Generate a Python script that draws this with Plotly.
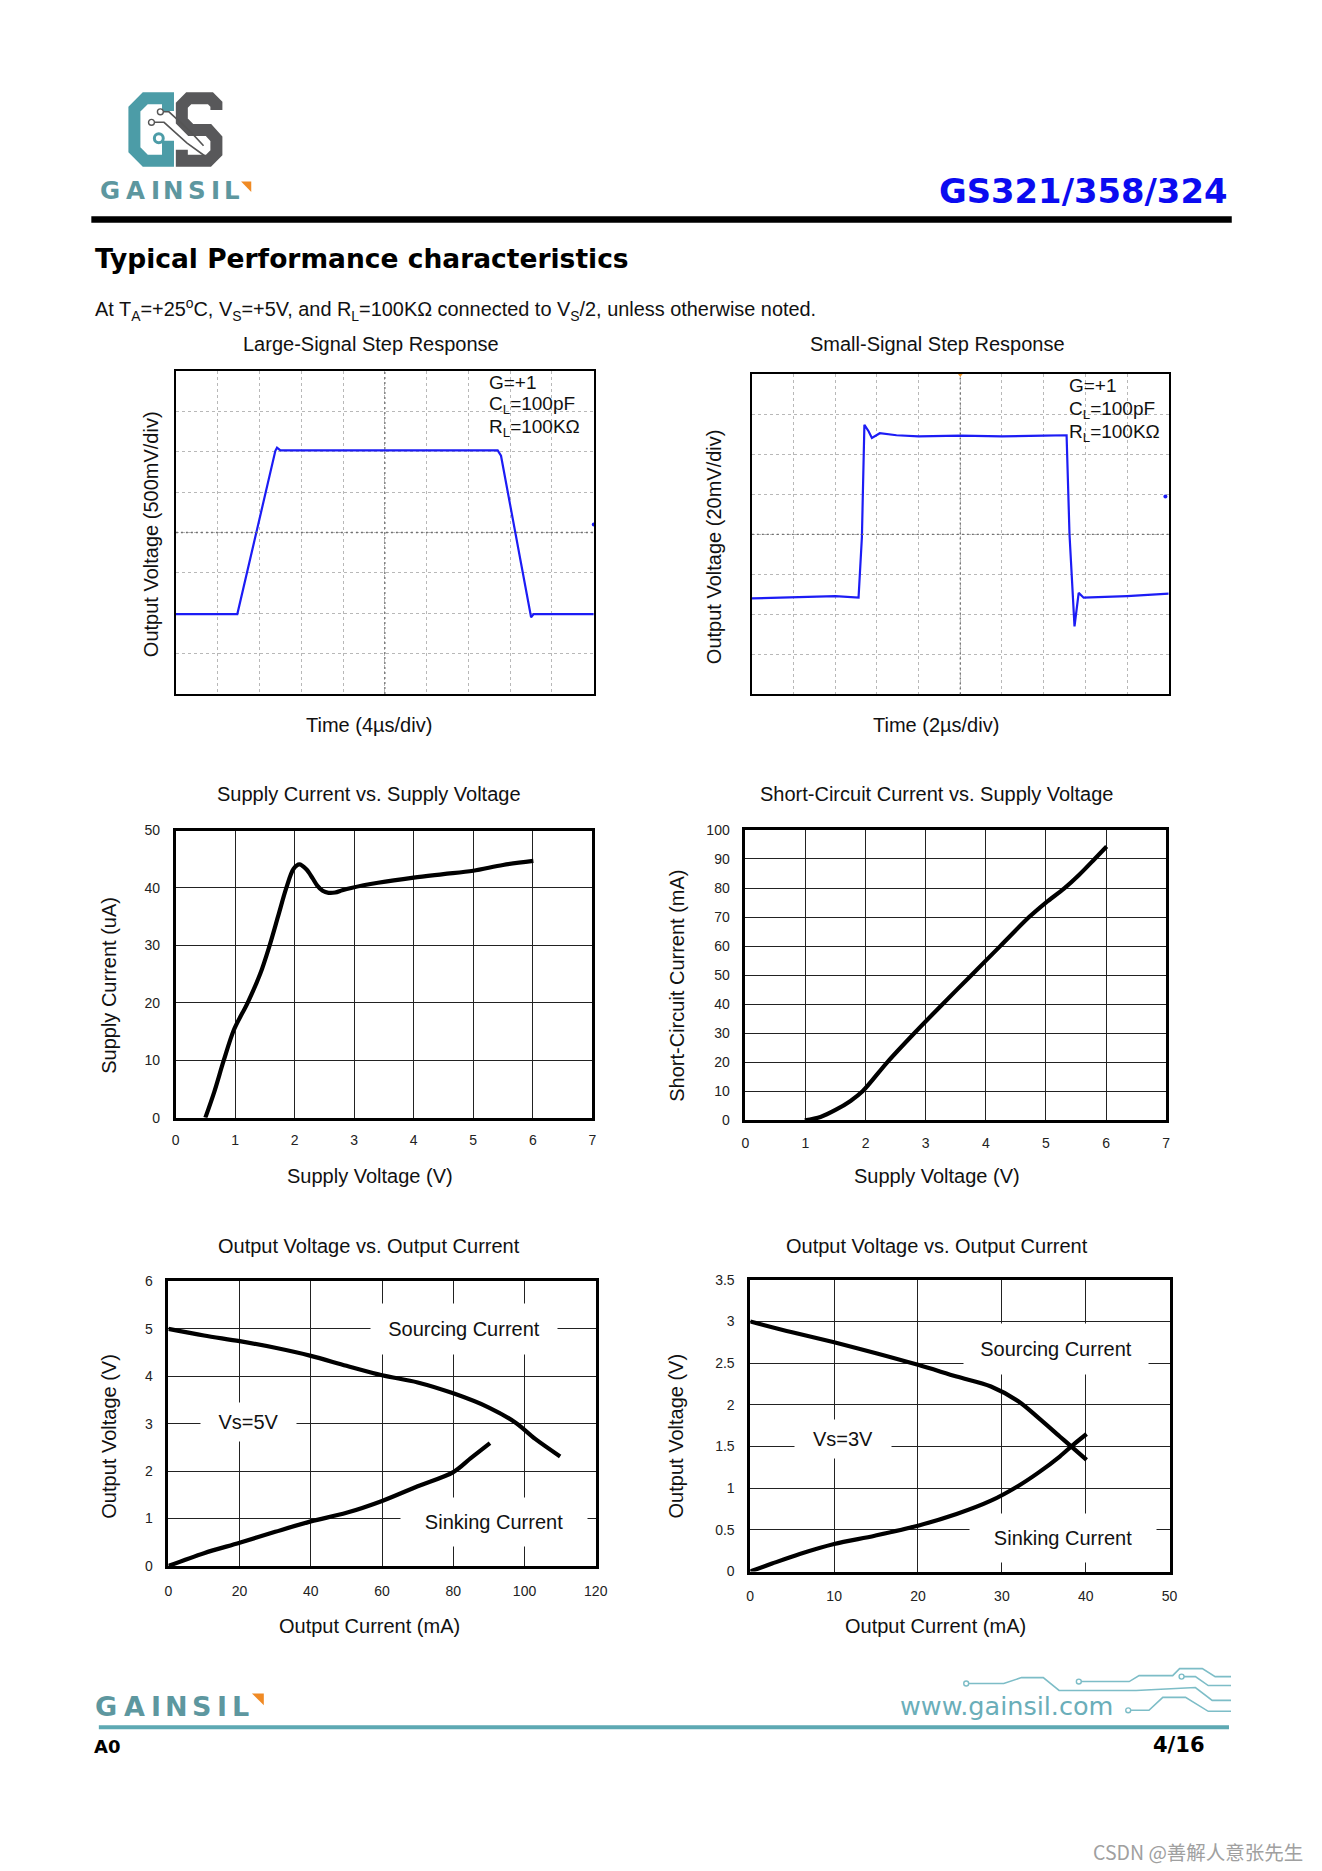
import plotly.graph_objects as go

W, H = 1322, 1871

# ---- values ----
# scope traces, in screen divisions (10 x 8)
ls_t = [0.0, 1.47, 2.38, 2.42, 2.50, 7.70, 7.78, 8.50, 8.56, 10.0]
ls_v = [1.98, 1.98, 6.02, 6.10, 6.03, 6.03, 5.90, 1.90, 1.98, 1.98]
ls_mark_t = [10.0]
ls_mark_v = [4.2]

ss_t = [0.0, 1.0, 2.0, 2.56, 2.64, 2.70, 2.80, 2.88, 3.07, 3.47, 4.0, 5.0, 6.0, 7.0,
        7.55, 7.62, 7.74, 7.84, 7.96, 9.0, 10.0]
ss_v = [2.40, 2.43, 2.46, 2.42, 3.93, 6.74, 6.58, 6.41, 6.53, 6.48, 6.45, 6.47, 6.45, 6.47,
        6.48, 4.00, 1.70, 2.54, 2.42, 2.46, 2.52]
ss_mark_t = [9.92]
ss_mark_v = [4.95]
ss_trig_t = [5.0]
ss_trig_v = [8.0]

# supply current vs supply voltage
iq_vs = [0.50, 0.65, 0.81, 0.98, 1.21, 1.42, 1.58, 1.72, 1.86, 1.98, 2.08, 2.20, 2.30,
         2.38, 2.47, 2.57, 2.68, 2.80, 2.95, 3.40, 4.00, 4.50, 5.00, 5.50, 6.01]
iq_ua = [0.0, 4.5, 10.0, 15.3, 20.0, 25.0, 30.0, 35.0, 40.0, 43.3, 44.1, 43.2, 41.7,
         40.4, 39.5, 39.15, 39.2, 39.6, 40.0, 40.9, 41.8, 42.4, 43.0, 44.0, 44.7]

# short-circuit current vs supply voltage
isc_vs = [0.99, 1.25, 1.50, 1.75, 1.95, 2.36, 2.81, 3.28, 3.76, 4.24, 4.72, 5.00, 5.30,
          5.55, 5.81, 6.01]
isc_ma = [0.0, 1.2, 3.6, 6.7, 10.0, 20.0, 30.0, 40.0, 50.0, 60.0, 70.0, 75.0, 79.8,
          84.5, 90.0, 94.3]

# output voltage vs output current, Vs=5V
src5_ma = [0, 10, 20, 30, 40, 50, 60, 70, 80, 90, 97.5, 103, 110]
src5_v = [5.0, 4.86, 4.74, 4.60, 4.43, 4.22, 4.02, 3.87, 3.64, 3.34, 3.02, 2.68, 2.31]
snk5_ma = [0, 10, 20, 30, 40, 50, 60, 70, 80, 85, 90.3]
snk5_v = [0.0, 0.27, 0.49, 0.72, 0.94, 1.12, 1.37, 1.68, 1.98, 2.28, 2.59]

# output voltage vs output current, Vs=3V
src3_ma = [0, 5, 10, 15, 20, 24.6, 28.7, 32, 34.4, 36.9, 38.5, 40.1]
src3_v = [3.0, 2.87, 2.75, 2.62, 2.48, 2.34, 2.22, 2.04, 1.84, 1.62, 1.48, 1.34]
snk3_ma = [0, 2.6, 5.9, 10, 14.85, 20, 24.6, 28.7, 32, 34.4, 36.9, 38.5, 40.1]
snk3_v = [0.0, 0.095, 0.21, 0.33, 0.43, 0.55, 0.69, 0.85, 1.03, 1.19, 1.38, 1.52, 1.65]

# ---- page layout (pixels) ----
FONT = "Liberation Sans, Arial, sans-serif"
HEAVY = "DejaVu Sans, Liberation Sans, sans-serif"

# plot boxes: x0, y0, x1, y1
boxes = [
    (174, 366, 597, 692),
    (757, 369.6, 1179, 692.4),
    (173.7, 829.6, 595.5, 1119.2),
    (750.4, 829, 1176.4, 1122),
    (166.4, 1284.4, 599, 1571.4),
    (755.4, 1282.8, 1179.9, 1577),
]


def px(x):
    return x / W


def py(y):
    return 1 - y / H


def path(points, close=False):
    s = "M " + " L ".join(f"{px(x):.5f},{py(y):.5f}" for x, y in points)
    return s + (" Z" if close else "")


fig = go.Figure()
annotations = []
shapes = []


def text(t, x, y, size=20, color="#111", family=FONT, xanchor="center", angle=0, **kw):
    annotations.append(dict(text=t, x=px(x), y=py(y), xref="paper", yref="paper",
                            xanchor=xanchor, yanchor="middle", showarrow=False,
                            textangle=angle, font=dict(size=size, color=color, family=family), **kw))


# axes
for i, b in enumerate(boxes, start=1):
    n = "" if i == 1 else str(i)
    xa = dict(domain=[px(b[0]), px(b[2])], anchor="y" + n, zeroline=False, fixedrange=True,
              showline=True, mirror=True, linecolor="black", ticks="")
    ya = dict(domain=[py(b[3]), py(b[1])], anchor="x" + n, zeroline=False, fixedrange=True,
              showline=True, mirror=True, linecolor="black", ticks="")
    if i <= 2:
        scope = dict(showgrid=True, gridcolor="#b8b8b8", griddash="dot", gridwidth=1,
                     dtick=1, showticklabels=False, linewidth=1.5)
        xa.update(scope, range=[0, 10])
        ya.update(scope, range=[0, 8])
    else:
        grid = dict(showgrid=True, gridcolor="#222", gridwidth=1, linewidth=2.6,
                    tickfont=dict(size=14, color="#222", family=FONT))
        xa.update(grid, ticklabelstandoff=8 if i <= 4 else 10)
        ya.update(grid, ticklabelstandoff=10)
    fig.layout["xaxis" + n] = xa
    fig.layout["yaxis" + n] = ya

fig.layout.xaxis3.update(range=[0, 7], dtick=1)
fig.layout.yaxis3.update(range=[0, 50], dtick=10)
fig.layout.xaxis4.update(range=[0, 7], dtick=1)
fig.layout.yaxis4.update(range=[0, 100], dtick=10)
fig.layout.xaxis5.update(range=[0, 120], dtick=20)
fig.layout.yaxis5.update(range=[0, 6], dtick=1)
fig.layout.xaxis6.update(range=[0, 50], dtick=10)
fig.layout.yaxis6.update(range=[0, 3.5], dtick=0.5)

# scope centre lines
for n in ["", "2"]:
    shapes.append(dict(type="line", xref="x" + n, yref="y" + n, x0=5, x1=5, y0=0, y1=8,
                       line=dict(color="#707070", width=1.3, dash="2px,3px")))
    shapes.append(dict(type="line", xref="x" + n, yref="y" + n, x0=0, x1=10, y0=4, y1=4,
                       line=dict(color="#707070", width=1.3, dash="2px,3px")))

BLUE = "#1c1cf5"
fig.add_trace(go.Scatter(x=ls_t, y=ls_v, mode="lines", line=dict(color=BLUE, width=2.2),
                         xaxis="x", yaxis="y"))
fig.add_trace(go.Scatter(x=ls_mark_t, y=ls_mark_v, mode="markers", marker=dict(color=BLUE, size=4),
                         xaxis="x", yaxis="y", cliponaxis=False))
fig.add_trace(go.Scatter(x=ss_t, y=ss_v, mode="lines", line=dict(color=BLUE, width=2.2),
                         xaxis="x2", yaxis="y2"))
fig.add_trace(go.Scatter(x=ss_mark_t, y=ss_mark_v, mode="markers", marker=dict(color=BLUE, size=4),
                         xaxis="x2", yaxis="y2", cliponaxis=False))
fig.add_trace(go.Scatter(x=ss_trig_t, y=ss_trig_v, mode="markers",
                         marker=dict(color="#f29a2e", size=5, symbol="triangle-down"),
                         xaxis="x2", yaxis="y2", cliponaxis=False))

curve = dict(color="black", width=4.2, shape="spline", smoothing=0.9)
fig.add_trace(go.Scatter(x=iq_vs, y=iq_ua, mode="lines", line=curve, xaxis="x3", yaxis="y3"))
fig.add_trace(go.Scatter(x=isc_vs, y=isc_ma, mode="lines", line=curve, xaxis="x4", yaxis="y4"))
fig.add_trace(go.Scatter(x=src5_ma, y=src5_v, mode="lines", line=curve, xaxis="x5", yaxis="y5"))
fig.add_trace(go.Scatter(x=snk5_ma, y=snk5_v, mode="lines", line=curve, xaxis="x5", yaxis="y5"))
fig.add_trace(go.Scatter(x=src3_ma, y=src3_v, mode="lines", line=curve, xaxis="x6", yaxis="y6"))
fig.add_trace(go.Scatter(x=snk3_ma, y=snk3_v, mode="lines", line=curve, xaxis="x6", yaxis="y6"))
fig.update_traces(showlegend=False, hoverinfo="skip")


# labels on white boxes that break the grid
def boxed(t, n, x, y, w, h):
    annotations.append(dict(text=t, x=x, y=y, xref="x" + n, yref="y" + n, showarrow=False,
                            width=w, height=h, bgcolor="white", borderpad=0,
                            font=dict(size=20, color="#111", family=FONT)))


boxed("Sourcing Current", "5", 83.0, 4.99, 186, 50)
boxed("Vs=5V", "5", 22.5, 3.03, 95, 38)
boxed("Sinking Current", "5", 91.3, 0.92, 186, 48)
boxed("Sourcing Current", "6", 36.4, 2.67, 184, 50)
boxed("Vs=3V", "6", 11.1, 1.59, 96, 38)
boxed("Sinking Current", "6", 37.3, 0.40, 186, 48)

# scope conditions
for x0, ys in [(489, (377.4, 400.4, 423.4)), (1076, (381.2, 405.4, 428.6))]:
    for t, y in zip(["G=+1", "C<sub>L</sub>=100pF", "R<sub>L</sub>=100KΩ"], ys):
        text(t, x0, y, size=19, xanchor="left")

# chart titles and axis titles
text("Large-Signal Step Response", 371, 339)
text("Small-Signal Step Response", 945, 339)
text("Time (4µs/div)", 369, 723.6)
text("Time (2µs/div)", 943, 723.6)
text("Output Voltage (500mV/div)", 149.5, 531, angle=-90)
text("Output Voltage (20mV/div)", 719.5, 543, angle=-90)

text("Supply Current vs. Supply Voltage", 369.5, 792.4)
text("Supply Voltage (V)", 370, 1178)
text("Supply Current (uA)", 105.5, 986, angle=-90)
text("Short-Circuit Current vs. Supply Voltage", 944.4, 792.4)
text("Supply Voltage (V)", 944, 1178)
text("Short-Circuit Current (mA)", 680.4, 986, angle=-90)

text("Output Voltage vs. Output Current", 369.6, 1248.4)
text("Output Current (mA)", 369.6, 1631.8)
text("Output Voltage (V)", 106.7, 1440.6, angle=-90)
text("Output Voltage vs. Output Current", 944.3, 1248.4)
text("Output Current (mA)", 943, 1631.8)
text("Output Voltage (V)", 680.4, 1440.6, angle=-90)

# ---- header ----
TEAL = "#4c9ca7"
GREY = "#58585a"
DY = -7
shapes.append(dict(type="path", xref="paper", yref="paper",
                   path=path([(x, y + DY) for x, y in
                              [(166, 111), (166, 98), (143, 98), (132, 109), (132, 150),
                               (143, 161), (166, 161), (166, 141)]]),
                   line=dict(color=TEAL, width=12)))
shapes.append(dict(type="path", xref="paper", yref="paper",
                   path=path([(x, y + DY) for x, y in
                              [(215, 110), (215, 104), (209, 98), (187, 98), (180, 105), (180, 121),
                               (189, 130), (207, 130), (215, 139), (215, 153), (207, 161),
                               (180, 161), (180, 150)]]),
                   line=dict(color=GREY, width=12)))
for pts in [[(161, 111.7), (167, 111.7), (189, 132), (202, 146)],
            [(152, 122.3), (162, 122.3), (185, 143), (203, 156)]]:
    shapes.append(dict(type="path", xref="paper", yref="paper",
                       path=path([(x, y + DY) for x, y in pts]),
                       line=dict(color="#555", width=1.6)))
for cx, cy, r, col, lw in [(158.3, 111.7, 3, "#555", 1.4), (149.3, 122.3, 3, "#555", 1.4),
                           (156.7, 138.3, 4.5, TEAL, 3)]:
    cy += DY
    shapes.append(dict(type="circle", xref="paper", yref="paper", x0=px(cx - r), x1=px(cx + r),
                       y0=py(cy + r), y1=py(cy - r), line=dict(color=col, width=lw), fillcolor="white"))

LOGO = "#5d979f"
for ch, x in zip("GAINSIL", [107, 133, 153, 172, 195, 214, 231]):
    text(f"<b>{ch}</b>", x, 184.5, size=24.5, color=LOGO, family=HEAVY)
shapes.append(dict(type="path", xref="paper", yref="paper",
                   path=path([(240, 175), (250.3, 175), (250.3, 185.5)], close=True),
                   fillcolor="#f08a24", line=dict(width=0)))

text("<b>GS321/358/324</b>", 1240, 185, size=33.8, color="#0b0bf0", family=HEAVY, xanchor="right")
shapes.append(dict(type="rect", xref="paper", yref="paper", x0=px(88.4), x1=px(1242.8),
                   y0=py(216.5), y1=py(210), fillcolor="black", line=dict(width=0)))
text("<b>Typical Performance characteristics</b>", 90, 253, size=26.5, color="black",
     family=HEAVY, xanchor="left")
text("At T<sub>A</sub>=+25<sup>o</sup>C, V<sub>S</sub>=+5V, and R<sub>L</sub>=100KΩ connected to "
     "V<sub>S</sub>/2, unless otherwise noted.", 90, 304, size=19.9, xanchor="left")

# ---- footer ----
for ch, x in zip("GAINSIL", [103.5, 132.3, 153.5, 174.5, 200, 221, 239.5]):
    text(f"<b>{ch}</b>", x, 1713, size=27, color=LOGO, family=HEAVY)
shapes.append(dict(type="path", xref="paper", yref="paper",
                   path=path([(251, 1700), (263, 1700), (263, 1712)], close=True),
                   fillcolor="#f08a24", line=dict(width=0)))
shapes.append(dict(type="rect", xref="paper", yref="paper", x0=px(96), x1=px(1240),
                   y0=py(1736), y1=py(1732), fillcolor="#5ea9b3", line=dict(width=0)))
text("www.gainsil.com", 905, 1713, size=25.5, color="#6aaeb9", family="DejaVu Sans", xanchor="left")
CIRC = "#7dbdc7"
circuit = [
    [(968, 1685), (1006, 1685), (1024, 1679), (1046, 1679), (1062, 1692), (1140, 1692),
     (1200, 1689), (1217, 1702), (1236, 1702)],
    [(1082, 1683), (1133, 1683), (1143, 1677), (1177, 1677), (1184, 1670), (1207, 1670),
     (1220, 1678), (1236, 1678)],
    [(1186, 1678), (1200, 1678), (1213, 1687), (1236, 1687)],
    [(1132, 1712), (1153, 1712), (1167, 1699), (1190, 1699), (1213, 1713), (1236, 1713)],
]
for pts in circuit:
    pts = [(x + 6, y + 5) for x, y in pts]
    shapes.append(dict(type="path", xref="paper", yref="paper", path=path(pts),
                       line=dict(color=CIRC, width=1.6)))
    cx, cy = pts[0]
    shapes.append(dict(type="circle", xref="paper", yref="paper", x0=px(cx - 2.5), x1=px(cx + 2.5),
                       y0=py(cy + 2.5), y1=py(cy - 2.5), line=dict(color=CIRC, width=1.4),
                       fillcolor="white"))

text("<b>A0</b>", 89, 1753, size=18, color="black", family=HEAVY, xanchor="left")
text("<b>4/16</b>", 1218, 1752, size=21, color="black", family=HEAVY, xanchor="right")
text("CSDN @善解人意张先生", 1317, 1859, size=19.5, color="#a0a0a0",
     family="Noto Sans CJK SC, sans-serif", xanchor="right")

fig.update_layout(width=W, height=H, margin=dict(l=0, r=0, t=0, b=0),
                  paper_bgcolor="white", plot_bgcolor="white",
                  font=dict(family=FONT, color="#111"),
                  annotations=annotations, shapes=shapes, showlegend=False)

fig.write_html("out.html", config={"displayModeBar": False},
               post_script="document.body.style.margin='0px';")
